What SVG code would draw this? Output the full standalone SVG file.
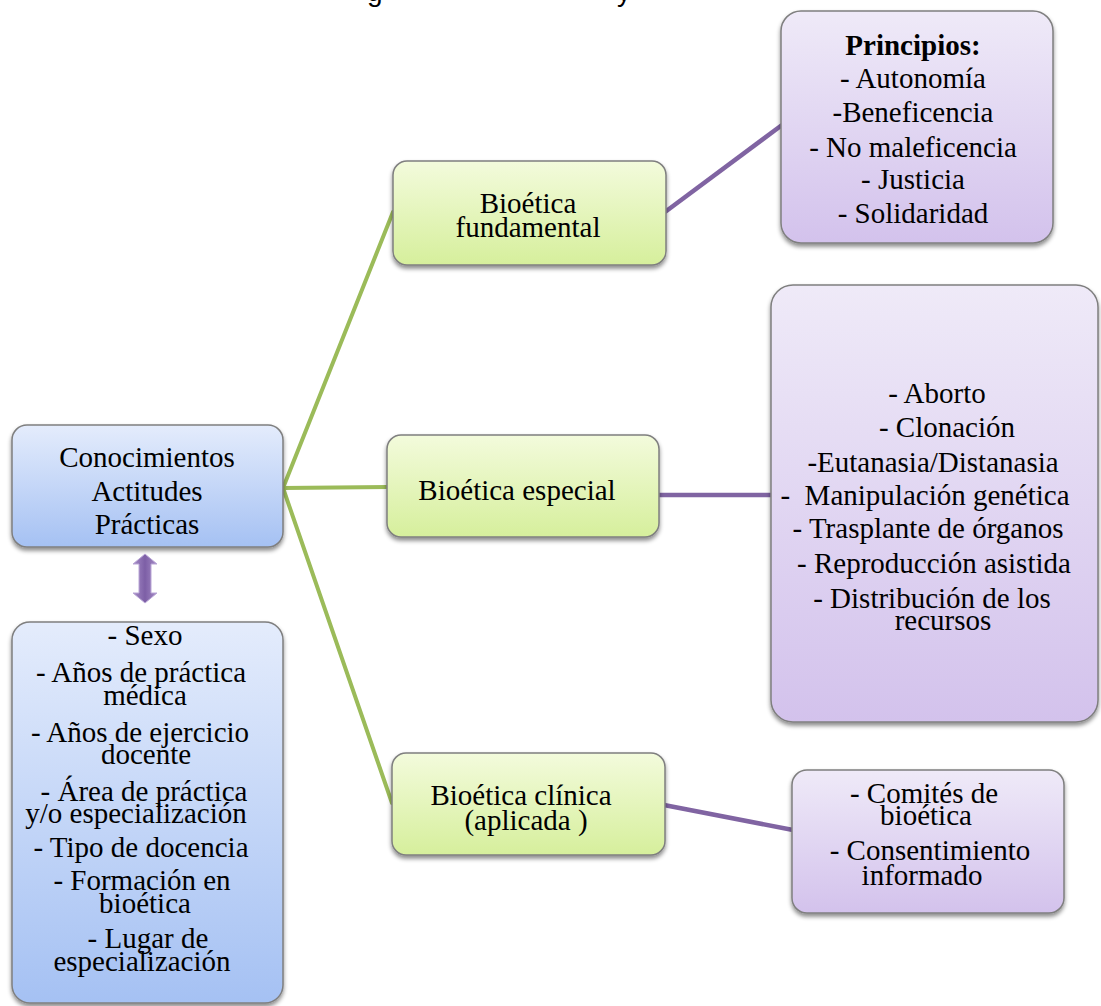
<svg xmlns="http://www.w3.org/2000/svg" width="1101" height="1006" viewBox="0 0 1101 1006">
<style>
.t{font-family:"Liberation Serif","Times New Roman",serif;font-size:29px;fill:#000;text-anchor:middle}
.b{font-weight:bold}
.box{stroke:#7f7f7f;stroke-width:1.5}
.g{stroke:#9bbb59;stroke-width:4;fill:none;stroke-linecap:round}
.p{stroke:#8064a2;stroke-width:4.5;fill:none}
.ttl{font-family:"Liberation Sans",Arial,sans-serif;font-size:28px;fill:#000}
</style>
<defs>
<linearGradient id="gb" x1="0" y1="0" x2="0" y2="1"><stop offset="0" stop-color="#e4ecfc"/><stop offset="1" stop-color="#a5c1f3"/></linearGradient>
<linearGradient id="gg" x1="0" y1="0" x2="0" y2="1"><stop offset="0" stop-color="#f3fbdc"/><stop offset="1" stop-color="#d6ef9c"/></linearGradient>
<linearGradient id="gp" x1="0" y1="0" x2="0" y2="1"><stop offset="0" stop-color="#efeaf8"/><stop offset="1" stop-color="#d3c2ec"/></linearGradient>
<linearGradient id="ga" x1="0" y1="0" x2="1" y2="0"><stop offset="0" stop-color="#a58cc6"/><stop offset="0.5" stop-color="#7d5fa6"/><stop offset="1" stop-color="#a58cc6"/></linearGradient>
<filter id="sh" x="-10%" y="-10%" width="120%" height="130%"><feDropShadow dx="0" dy="3" stdDeviation="2" flood-color="#000" flood-opacity="0.45"/></filter>
</defs>
<text class="ttl" x="367" y="0.5">g</text>
<text class="ttl" x="617" y="0.5">y</text>
<g id="connectors">
<line class="g" x1="283" y1="488" x2="393" y2="212"/>
<line class="g" x1="283" y1="488" x2="388" y2="487"/>
<line class="g" x1="283" y1="488" x2="392" y2="803"/>
<line class="p" x1="665" y1="212" x2="782" y2="125"/>
<line class="p" x1="659" y1="495" x2="771" y2="495"/>
<line class="p" x1="664" y1="805" x2="793" y2="830"/>
<polygon points="145,554 157,564 151,564 151,593 157,593 145,603 133,593 139,593 139,564 133,564" fill="url(#ga)" stroke="#b9a6d6" stroke-width="1"/>
</g>
<g id="cap">
<rect class="box" x="12" y="425" width="271" height="122" rx="15" fill="url(#gb)" filter="url(#sh)"/>
<text class="t" x="147" y="467">Conocimientos</text>
<text class="t" x="147" y="501">Actitudes</text>
<text class="t" x="147" y="534">Prácticas</text>
</g>
<g id="variables">
<rect class="box" x="12" y="622" width="271" height="381" rx="18" fill="url(#gb)" filter="url(#sh)"/>
<text class="t" x="145" y="645">- Sexo</text>
<text class="t" x="141" y="682">- Años de práctica</text>
<text class="t" x="145" y="705">médica</text>
<text class="t" x="140" y="742">- Años de ejercicio</text>
<text class="t" x="146" y="764">docente</text>
<text class="t" x="144" y="801">- Área de práctica</text>
<text class="t" x="136" y="823">y/o especialización</text>
<text class="t" x="141" y="857">- Tipo de docencia</text>
<text class="t" x="142" y="890">- Formación en</text>
<text class="t" x="145" y="913">bioética</text>
<text class="t" x="148" y="948">- Lugar de</text>
<text class="t" x="142" y="971">especialización</text>
</g>
<g id="fundamental">
<rect class="box" x="393" y="161" width="273" height="104" rx="14" fill="url(#gg)" filter="url(#sh)"/>
<text class="t" x="528" y="213">Bioética</text>
<text class="t" x="528" y="237">fundamental</text>
</g>
<g id="especial">
<rect class="box" x="387" y="435" width="272" height="102" rx="14" fill="url(#gg)" filter="url(#sh)"/>
<text class="t" x="517" y="500">Bioética especial</text>
</g>
<g id="clinica">
<rect class="box" x="392" y="753" width="273" height="102" rx="14" fill="url(#gg)" filter="url(#sh)"/>
<text class="t" x="521" y="805">Bioética clínica</text>
<text class="t" x="526" y="830">(aplicada )</text>
</g>
<g id="principios">
<rect class="box" x="781" y="11" width="272" height="232" rx="20" fill="url(#gp)" filter="url(#sh)"/>
<text class="t b" x="913" y="55">Principios:</text>
<text class="t" x="913" y="88">- Autonomía</text>
<text class="t" x="913" y="122">-Beneficencia</text>
<text class="t" x="913" y="157">- No maleficencia</text>
<text class="t" x="913" y="189">- Justicia</text>
<text class="t" x="913" y="223">- Solidaridad</text>
</g>
<g id="temas">
<rect class="box" x="771" y="285" width="327" height="437" rx="22" fill="url(#gp)" filter="url(#sh)"/>
<text class="t" x="937" y="403">- Aborto</text>
<text class="t" x="947" y="437">- Clonación</text>
<text class="t" x="933" y="472">-Eutanasia/Distanasia</text>
<text class="t" x="925" y="505" xml:space="preserve">-  Manipulación genética</text>
<text class="t" x="928" y="538">- Trasplante de órganos</text>
<text class="t" x="934" y="573">- Reproducción asistida</text>
<text class="t" x="932" y="608">- Distribución de los</text>
<text class="t" x="943" y="630">recursos</text>
</g>
<g id="comites">
<rect class="box" x="792" y="770" width="272" height="143" rx="15" fill="url(#gp)" filter="url(#sh)"/>
<text class="t" x="924" y="803">- Comités de</text>
<text class="t" x="926" y="825">bioética</text>
<text class="t" x="930" y="860">- Consentimiento</text>
<text class="t" x="922" y="885">informado</text>
</g>
</svg>
